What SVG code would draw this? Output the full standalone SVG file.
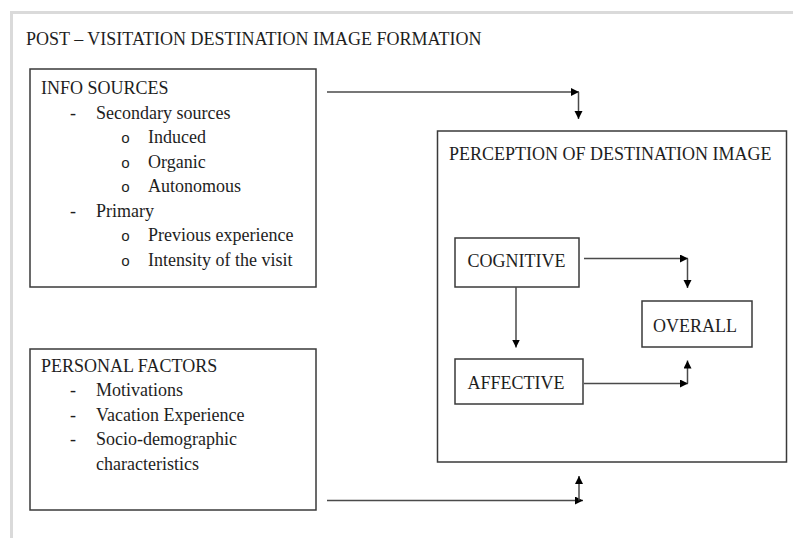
<svg xmlns="http://www.w3.org/2000/svg" width="793" height="538" viewBox="0 0 793 538">
  <style>
    text { font-family: "Liberation Serif", "Times New Roman", serif; font-size: 18px; fill: #1e1e1e; }
    .bullet { font-family: "Liberation Mono", "Courier New", monospace; font-size: 15px; }
    .box { fill: #ffffff; stroke: #3a3a3a; stroke-width: 1.5; }
    .frame { fill: none; stroke: #dadada; stroke-width: 3; }
    .conn { fill: none; stroke: #4a4a4a; stroke-width: 1.5; marker-end: url(#arrow); }
  </style>
  <defs>
    <marker id="arrow" markerUnits="userSpaceOnUse" markerWidth="10" markerHeight="9" refX="8" refY="4" orient="auto">
      <path d="M0,0 L8,4 L0,8 z" fill="#000000"/>
    </marker>
  </defs>

  <rect width="793" height="538" fill="#ffffff"/>
  <!-- page frame -->
  <path class="frame" d="M11.5,538 L11.5,12.5 L793,12.5"/>

  <text id="title" x="26" y="45">POST – VISITATION DESTINATION IMAGE FORMATION</text>

  <g id="info-sources">
    <rect class="box" x="30" y="69" width="286" height="218"/>
    <text x="41" y="94">INFO SOURCES</text>
    <text x="70" y="118.5">-</text>
    <text x="96" y="118.5">Secondary sources</text>
    <text class="bullet" x="121" y="143">o</text>
    <text x="148" y="143">Induced</text>
    <text class="bullet" x="121" y="167.5">o</text>
    <text x="148" y="167.5">Organic</text>
    <text class="bullet" x="121" y="192">o</text>
    <text x="148" y="192">Autonomous</text>
    <text x="70" y="216.5">-</text>
    <text x="96" y="216.5">Primary</text>
    <text class="bullet" x="121" y="241">o</text>
    <text x="148" y="241">Previous experience</text>
    <text class="bullet" x="121" y="265.5">o</text>
    <text x="148" y="265.5">Intensity of the visit</text>
  </g>

  <g id="personal-factors">
    <rect class="box" x="30" y="349" width="286" height="161"/>
    <text x="41" y="371.5">PERSONAL FACTORS</text>
    <text x="70" y="396">-</text>
    <text x="96" y="396">Motivations</text>
    <text x="70" y="420.5">-</text>
    <text x="96" y="420.5">Vacation Experience</text>
    <text x="70" y="445">-</text>
    <text x="96" y="445">Socio-demographic</text>
    <text x="96" y="469.5">characteristics</text>
  </g>

  <g id="perception">
    <rect class="box" x="437.5" y="131" width="349" height="331"/>
    <text x="449" y="160">PERCEPTION OF DESTINATION IMAGE</text>
  </g>

  <g id="cognitive">
    <rect class="box" x="455" y="238" width="124" height="49"/>
    <text x="467.5" y="267">COGNITIVE</text>
  </g>

  <g id="affective">
    <rect class="box" x="455" y="359" width="128" height="45"/>
    <text x="467.5" y="389">AFFECTIVE</text>
  </g>

  <g id="overall">
    <rect class="box" x="642" y="301" width="110" height="46"/>
    <text x="653" y="332">OVERALL</text>
  </g>

  <g id="connectors">
    <!-- info sources to perception -->
    <line class="conn" x1="327" y1="92" x2="579" y2="92"/>
    <line class="conn" x1="578.5" y1="92" x2="578.5" y2="119"/>
    <!-- cognitive to overall -->
    <line class="conn" x1="584" y1="258.5" x2="688" y2="258.5"/>
    <line class="conn" x1="687.5" y1="258.5" x2="687.5" y2="288"/>
    <!-- cognitive to affective -->
    <line class="conn" x1="516" y1="287" x2="516" y2="347.5"/>
    <!-- affective to overall -->
    <line class="conn" x1="584" y1="383.5" x2="688" y2="383.5"/>
    <line class="conn" x1="687.5" y1="383.5" x2="687.5" y2="360.5"/>
    <!-- personal factors to perception -->
    <line class="conn" x1="327" y1="500.5" x2="583" y2="500.5"/>
    <line class="conn" x1="579" y1="500.5" x2="579" y2="476"/>
  </g>
</svg>
